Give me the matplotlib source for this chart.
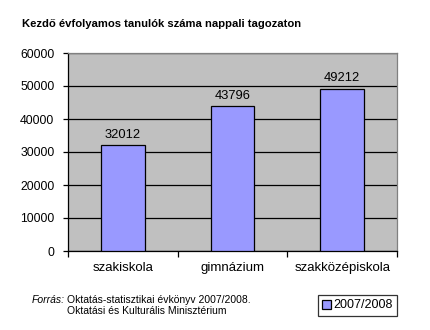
import matplotlib
matplotlib.use("Agg")
import matplotlib.pyplot as plt

categories = ["szakiskola", "gimnázium", "szakközépiskola"]
values = [32012, 43796, 49212]
series_name = "2007/2008"
yticks = [0, 10000, 20000, 30000, 40000, 50000, 60000]

plt.rcParams['font.family'] = ['Liberation Sans', 'DejaVu Sans']

fig = plt.figure(figsize=(4.3, 3.3), dpi=100)
fig.patch.set_facecolor("white")
ax = fig.add_axes([68/430, 1-251/330, 329/430, 198/330])
ax.set_facecolor("#C0C0C0")

x = list(range(len(categories)))
bars = ax.bar(x, values, width=0.4, color="#9999FF", edgecolor="black", linewidth=0.9, zorder=3, label=series_name)
for xi, v in zip(x, values):
    ax.text(xi, v + 1400, str(v), ha="center", va="bottom", fontsize=9.3, zorder=4)

ax.set_xlim(-0.5, len(categories) - 0.5)
ax.set_ylim(0, 60000)
ax.set_yticks(yticks)
ax.set_yticklabels([str(t) for t in yticks], fontsize=8.8)
ax.yaxis.grid(True, color="black", linewidth=0.9, zorder=1)
ax.set_axisbelow(True)

ax.set_xticks(x)
ax.set_xticklabels(categories, fontsize=9.5)
ax.tick_params(axis="x", length=0, pad=8)
ax.set_xticks([i + 0.5 for i in range(-1, len(categories))], minor=True)
ax.tick_params(axis="x", which="minor", length=4, width=0.9, color="black")
ax.tick_params(axis="y", length=3.8, width=0.9, color="black", pad=6)

for s in ["top", "right"]:
    ax.spines[s].set_color("#808080")
    ax.spines[s].set_linewidth(0.9)
ax.spines["left"].set_color("black")
ax.spines["bottom"].set_color("black")
ax.spines["left"].set_linewidth(0.9)
ax.spines["bottom"].set_linewidth(0.9)

fig.text(22/430, 1-24/330, "Kezdő évfolyamos tanulók száma nappali tagozaton",
         fontsize=8.1, fontweight="bold", ha="left", va="center")

fig.text(32/430, 1-300/330, "Forrás:", fontsize=7.5, style="italic", ha="left", va="center")
fig.text(67/430, 1-300/330, "Oktatás-statisztikai évkönyv 2007/2008.", fontsize=7.5, ha="left", va="center")
fig.text(67/430, 1-311/330, "Oktatási és Kulturális Minisztérium", fontsize=7.5, ha="left", va="center")

leg = fig.legend(handles=[bars], labels=[series_name], loc="center",
                 bbox_to_anchor=(357.5/430, 1-305.5/330), fontsize=9,
                 frameon=True, fancybox=False, edgecolor="black",
                 handlelength=0.7, handleheight=0.7, handletextpad=0.2,
                 borderpad=0.35, borderaxespad=0)
leg.get_frame().set_linewidth(0.9)

fig.savefig("out.png", dpi=100)
